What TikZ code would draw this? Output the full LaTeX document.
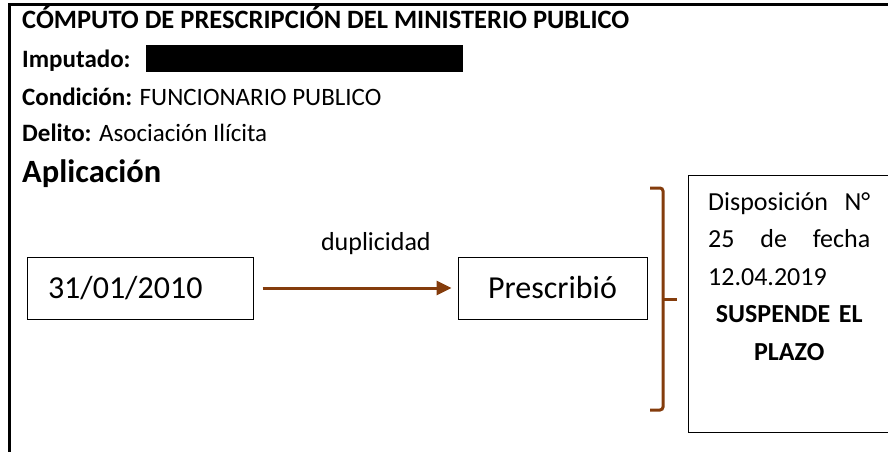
\documentclass[tikz,border=0pt]{standalone}
\usepackage{fontspec}
\setmainfont{Carlito}
\usepackage{xcolor}
\usepackage{tikz}
\usetikzlibrary{arrows.meta,positioning}
\definecolor{marron}{HTML}{843C0C}

\begin{document}
\begin{tikzpicture}[x=1pt, y=-1pt,
    linea/.style={anchor=base west, inner sep=0pt, font=\fontsize{25}{30}\selectfont},
    caja/.style={draw, line width=1pt, minimum height=62pt, font=\fontsize{32}{38}\selectfont},
    flecha/.style={draw=marron, line width=3pt, -{Triangle[length=15pt,width=14pt]}},
    llave/.style={draw=marron, line width=3pt, rounded corners=3pt}]
\useasboundingbox (0,0) rectangle (888,452);
\draw[line width=3pt] (9.5,460) -- (9.5,4.5) -- (900,4.5);
\node[linea, font=\fontsize{26.5}{30}\selectfont\bfseries] (titulo) at (22,29) {CÓMPUTO DE PRESCRIPCIÓN DEL MINISTERIO PUBLICO};
\node[linea] (imputado) at (22,67) {\textbf{Imputado:}};
\node[fill=black, inner sep=0pt, minimum width=317pt, minimum height=27pt, anchor=north west] (tachado) at (146,45) {};
\node[linea] (condicion) at (22,105) {\textbf{Condición:} FUNCIONARIO PUBLICO};
\node[linea] (delito) at (22,141) {\textbf{Delito:} Asociación Ilícita};
\node[linea, font=\fontsize{32.5}{36}\selectfont\bfseries] (aplicacion) at (22,182) {Aplicación};
\node[caja, minimum width=226pt, text width=184pt] (fecha) at (140,288) {31/01/2010};
\node[caja, minimum width=189pt, align=center] (prescribio) at (552.5,288) {Prescribió};
\draw[flecha, shorten <=9pt, shorten >=6pt] (fecha) -- node[pos=0.6, anchor=base, yshift=38pt, inner sep=0pt, font=\fontsize{26}{30}\selectfont, black] (dup) {duplicidad} (prescribio);
\draw[llave] (650,188) -- (663,188) -- (663,410) -- (650,410);
\draw[llave, rounded corners=0pt] (663,299) -- (677,299);
\node[draw, line width=1pt, minimum width=230pt, minimum height=257pt, anchor=north west] (disp) at (688,175) {};
\node[anchor=north west, inner sep=0pt, text width=162pt, align=center, font=\fontsize{26}{37.5}\selectfont] (texto) at (708,192)
    {\makebox[162pt][s]{Disposición\hfill N°}\\
     \makebox[162pt][s]{25\hfill de\hfill fecha}\\
     \makebox[162pt][l]{12.04.2019}\\
     \textbf{SUSPENDE EL}\\
     \textbf{PLAZO}};
\end{tikzpicture}
\end{document}
